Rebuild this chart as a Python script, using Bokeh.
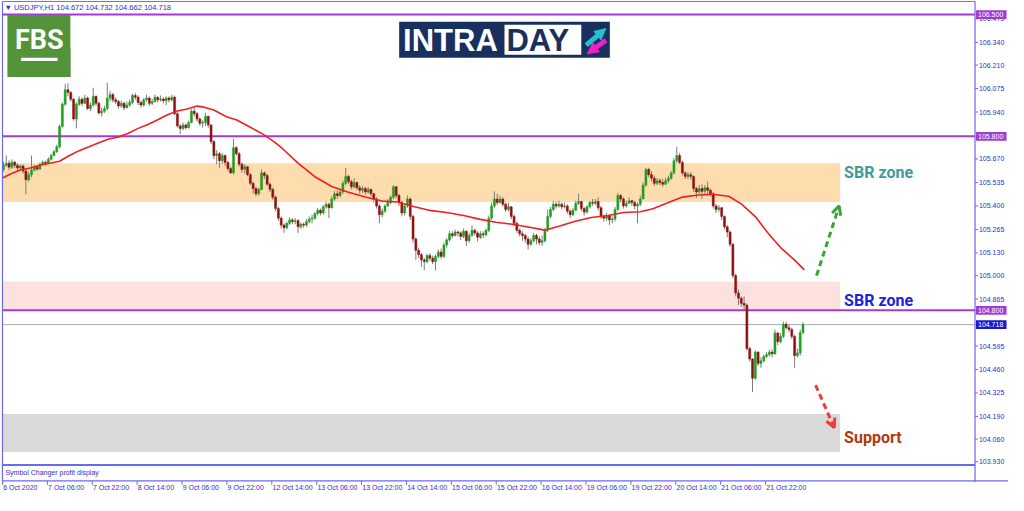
from bokeh.plotting import figure
from bokeh.models import (ColumnDataSource, Label, Arrow, OpenHead,
                          NormalHead, BoxAnnotation, Range1d)
from bokeh.core.properties import value
from bokeh.embed import file_html
from bokeh.resources import INLINE

# ---------------- data ----------------
first_open = 105.610
close = [
 105.634,105.646,105.623,105.651,105.634,105.618,105.629,105.601,105.551,105.579,
 105.607,105.623,105.612,105.640,105.651,105.645,105.668,105.690,105.712,105.740,
 105.857,105.985,106.068,106.052,106.013,105.900,105.985,106.013,105.990,106.020,
 105.960,105.980,106.030,105.990,105.935,105.945,105.960,106.020,106.040,106.010,
 106.000,105.975,105.990,105.965,105.980,105.995,106.035,106.025,105.995,105.980,
 106.010,106.020,105.990,106.000,106.025,106.010,106.015,106.005,106.020,106.010,
 106.025,105.930,105.860,105.845,105.865,105.850,105.880,105.945,105.930,105.900,
 105.875,105.880,105.915,105.865,105.770,105.690,105.700,105.660,105.690,105.650,
 105.615,105.590,105.735,105.700,105.640,105.610,105.625,105.580,105.530,105.500,
 105.470,105.495,105.590,105.575,105.525,105.495,105.450,105.385,105.330,105.290,
 105.275,105.300,105.320,105.310,105.315,105.280,105.295,105.290,105.310,105.325,
 105.330,105.355,105.375,105.360,105.395,105.410,105.390,105.440,105.470,105.460,
 105.480,105.530,105.570,105.540,105.510,105.535,105.505,105.490,105.500,105.480,
 105.495,105.470,105.440,105.400,105.350,105.370,105.400,105.420,105.450,105.510,
 105.460,105.420,105.360,105.400,105.440,105.340,105.210,105.145,105.120,105.090,
 105.080,105.115,105.100,105.080,105.110,105.135,105.110,105.175,105.205,105.240,
 105.230,105.250,105.245,105.225,105.255,105.200,105.230,105.260,105.245,105.220,
 105.240,105.235,105.260,105.330,105.400,105.440,105.420,105.440,105.410,105.380,
 105.395,105.340,105.300,105.260,105.240,105.230,105.210,105.180,105.200,105.230,
 105.210,105.190,105.200,105.260,105.340,105.380,105.410,105.400,105.410,105.395,
 105.400,105.370,105.350,105.375,105.415,105.425,105.385,105.365,105.395,105.420,
 105.415,105.425,105.390,105.340,105.330,105.345,105.320,105.325,105.380,105.460,
 105.440,105.400,105.415,105.430,105.420,105.400,105.410,105.440,105.520,105.610,
 105.580,105.560,105.530,105.545,105.535,105.525,105.545,105.560,105.590,105.660,
 105.690,105.650,105.590,105.570,105.580,105.570,105.500,105.480,105.500,105.485,
 105.505,105.490,105.470,105.400,105.380,105.390,105.340,105.280,105.250,105.180,
 105.000,104.900,104.870,104.840,104.830,104.580,104.520,104.410,104.560,104.495,
 104.510,104.535,104.545,104.560,104.550,104.670,104.620,104.650,104.720,104.700,
 104.690,104.650,104.540,104.555,104.672,104.718]
high = [
 105.655,105.690,105.662,105.668,105.660,105.645,105.640,105.640,105.612,105.595,
 105.690,105.635,105.630,105.650,105.662,105.660,105.680,105.700,105.722,105.752,
 105.868,105.996,106.102,106.105,106.060,106.020,105.995,106.030,106.025,106.040,
 106.030,105.995,106.080,106.035,106.000,105.965,105.975,106.108,106.060,106.050,
 106.025,106.010,106.005,106.000,106.000,106.012,106.045,106.050,106.035,106.005,
 106.020,106.040,106.030,106.015,106.040,106.030,106.035,106.025,106.030,106.030,
 106.040,106.035,105.940,105.870,105.880,105.875,105.890,105.955,105.965,105.940,
 105.910,105.895,105.935,105.920,105.870,105.780,105.720,105.710,105.705,105.695,
 105.660,105.625,105.785,105.745,105.710,105.650,105.640,105.630,105.590,105.540,
 105.510,105.505,105.610,105.600,105.585,105.535,105.505,105.460,105.395,105.340,
 105.300,105.310,105.335,105.330,105.330,105.325,105.305,105.305,105.325,105.340,
 105.350,105.365,105.390,105.385,105.405,105.425,105.420,105.455,105.485,105.490,
 105.500,105.545,105.618,105.580,105.550,105.560,105.540,105.520,105.515,105.510,
 105.510,105.500,105.475,105.450,105.410,105.385,105.410,105.440,105.460,105.520,
 105.515,105.470,105.430,105.410,105.460,105.450,105.350,105.220,105.160,105.130,
 105.100,105.125,105.130,105.115,105.120,105.150,105.155,105.190,105.215,105.255,
 105.255,105.265,105.260,105.255,105.270,105.260,105.245,105.290,105.270,105.255,
 105.255,105.255,105.270,105.345,105.420,105.484,105.470,105.460,105.450,105.420,
 105.420,105.400,105.350,105.310,105.270,105.255,105.240,105.225,105.215,105.245,
 105.240,105.225,105.230,105.275,105.380,105.395,105.430,105.425,105.430,105.420,
 105.420,105.410,105.380,105.390,105.430,105.470,105.430,105.395,105.405,105.430,
 105.440,105.440,105.450,105.400,105.350,105.360,105.350,105.340,105.395,105.475,
 105.470,105.450,105.430,105.450,105.435,105.430,105.420,105.460,105.535,105.620,
 105.620,105.600,105.575,105.560,105.560,105.555,105.560,105.575,105.600,105.675,
 105.740,105.705,105.660,105.600,105.595,105.595,105.575,105.510,105.520,105.525,
 105.520,105.540,105.500,105.480,105.410,105.405,105.395,105.345,105.290,105.260,
 105.185,105.010,104.920,104.880,104.880,104.840,104.590,104.525,104.570,104.565,
 104.530,104.545,104.560,104.575,104.575,104.690,104.675,104.670,104.735,104.735,
 104.720,104.700,104.660,104.580,104.690,104.732]
low = [
 105.598,105.625,105.605,105.612,105.618,105.600,105.605,105.585,105.467,105.540,
 105.565,105.598,105.600,105.608,105.635,105.632,105.640,105.660,105.685,105.705,
 105.730,105.850,105.975,106.030,106.000,105.890,105.846,105.975,105.975,105.985,
 105.952,105.945,105.970,105.975,105.925,105.915,105.935,105.950,106.000,105.995,
 105.985,105.960,105.965,105.950,105.960,105.970,105.985,106.010,105.980,105.965,
 105.970,106.000,105.975,105.980,105.995,105.995,106.000,105.990,105.980,105.995,
 106.000,105.920,105.850,105.813,105.835,105.840,105.845,105.875,105.915,105.885,
 105.860,105.850,105.860,105.850,105.755,105.670,105.640,105.620,105.640,105.630,
 105.600,105.585,105.580,105.690,105.625,105.590,105.585,105.570,105.520,105.470,
 105.455,105.460,105.490,105.555,105.515,105.480,105.435,105.370,105.315,105.270,
 105.245,105.265,105.290,105.295,105.295,105.245,105.270,105.275,105.280,105.300,
 105.300,105.320,105.345,105.345,105.350,105.385,105.330,105.385,105.430,105.440,
 105.450,105.470,105.520,105.525,105.495,105.500,105.490,105.470,105.475,105.465,
 105.470,105.455,105.420,105.385,105.300,105.335,105.360,105.395,105.410,105.440,
 105.445,105.400,105.340,105.345,105.390,105.320,105.190,105.090,105.100,105.050,
 105.030,105.070,105.085,105.065,105.030,105.100,105.095,105.100,105.160,105.195,
 105.215,105.225,105.225,105.205,105.215,105.170,105.190,105.225,105.230,105.195,
 105.210,105.215,105.225,105.250,105.320,105.390,105.405,105.415,105.395,105.365,
 105.370,105.325,105.285,105.245,105.225,105.200,105.190,105.150,105.170,105.190,
 105.180,105.175,105.170,105.190,105.250,105.330,105.370,105.385,105.390,105.380,
 105.385,105.355,105.330,105.340,105.370,105.405,105.370,105.345,105.355,105.385,
 105.400,105.405,105.375,105.325,105.310,105.315,105.290,105.300,105.310,105.370,
 105.420,105.385,105.390,105.410,105.400,105.380,105.300,105.400,105.440,105.510,
 105.565,105.540,105.515,105.520,105.520,105.510,105.520,105.530,105.550,105.580,
 105.645,105.640,105.575,105.555,105.555,105.550,105.480,105.445,105.470,105.440,
 105.470,105.460,105.455,105.385,105.360,105.365,105.320,105.265,105.220,105.165,
 104.985,104.880,104.830,104.820,104.795,104.570,104.505,104.330,104.400,104.480,
 104.470,104.500,104.525,104.535,104.530,104.545,104.600,104.610,104.640,104.690,
 104.675,104.635,104.470,104.530,104.540,104.662]

# moving average, read at sample bars
ma_bar = [-0.5,2.5,6,9.5,13,16.5,20,23.5,27,30.5,34,37.5,41,44.5,48,51.5,55,58.5,62,65.5,69,71.5,
          75,79.5,83,87.5,92.5,97,99.5,105,111,117,123,129,135,140.5,146.5,152.5,158,164,170,175.5,
          181.5,187.5,193,198,203.5,209.5,215.5,221,227,231.5,237.5,242,247,252.5,258.5,263,268,
          272.5,277,282,285.5]
ma_val = [105.559,105.584,105.607,105.618,105.634,105.646,105.657,105.690,105.718,105.740,105.763,
          105.785,105.796,105.818,105.846,105.868,105.896,105.924,105.946,105.957,105.974,105.968,
          105.952,105.913,105.896,105.857,105.813,105.763,105.729,105.646,105.568,105.512,105.479,
          105.451,105.428,105.423,105.395,105.373,105.362,105.345,105.323,105.306,105.295,105.278,
          105.261,105.284,105.311,105.334,105.345,105.362,105.367,105.384,105.423,105.451,105.462,
          105.467,105.456,105.412,105.339,105.245,105.161,105.089,105.033]

x_tick_bars = [0,16,32,48,64,80,96,112,128,144,160,176,192,208,224,240,256,272]
x_tick_labels = ["6 Oct 2020","7 Oct 06:00","7 Oct 22:00","8 Oct 14:00","9 Oct 06:00",
                 "9 Oct 22:00","12 Oct 14:00","13 Oct 06:00","13 Oct 22:00","14 Oct 14:00",
                 "15 Oct 06:00","15 Oct 22:00","16 Oct 14:00","19 Oct 06:00","19 Oct 22:00",
                 "20 Oct 14:00","21 Oct 06:00","21 Oct 22:00"]
y_ticks = [106.475,106.340,106.210,106.075,105.940,105.670,105.535,105.400,105.265,105.130,
           105.000,104.865,104.595,104.460,104.325,104.190,104.060,103.930]
level_lines = [106.500, 105.800, 104.800]
current_price = 104.718
zone_top = [105.646, 104.966, 104.204]
zone_bottom = [105.423, 104.799, 103.986]
zone_colors = ["#fddcae", "#fde1de", "#d9d9d9"]
zone_labels = ["SBR zone", "SBR zone", "Support"]
zone_label_colors = ["#3f9a9a", "#1c22e0", "#b13a10"]

# ---------------- geometry helpers (reference pixel -> data) ----------------
def fx(px):
    return (px - 3) / 2.85

def fy(py):
    return 106.581 - 0.005568 * py

def dx(px):
    return px / 2.85

def dy(py):
    return py * 0.005568

BLUE = "#6a6af0"
TXT = "#2e2ed0"
PURPLE = "#a23ad6"
SMALL = value("Liberation Sans")

p = figure(width=1008, height=495, output_backend="svg", toolbar_location=None,
           x_range=Range1d(fx(0), fx(1024)), y_range=Range1d(fy(511), fy(0)),
           x_axis_location=None, y_axis_location=None, min_border=0)
p.grid.visible = False
p.outline_line_color = None
p.background_fill_color = "white"
p.border_fill_color = "white"

n = len(close)
xs = list(range(n))
opens = [first_open] + close[:-1]

# zones
zsrc = ColumnDataSource(dict(left=[fx(2)] * 3, right=[fx(853)] * 3,
                             top=zone_top, bottom=zone_bottom, color=zone_colors))
p.quad(left="left", right="right", top="top", bottom="bottom", fill_color="color",
       line_color=None, source=zsrc)

# horizontal levels
p.segment(x0=[fx(2)] * 3, x1=[fx(990)] * 3, y0=level_lines, y1=level_lines,
          line_color=PURPLE, line_width=2)
p.segment(x0=[fx(2)], x1=[fx(990)], y0=[current_price], y1=[current_price],
          line_color="#a8a8a8", line_width=1)

# candles
bull = [i for i in xs if close[i] >= opens[i]]
bear = [i for i in xs if close[i] < opens[i]]
wsrc = ColumnDataSource(dict(x=xs, h=high, l=low))
p.segment(x0="x", x1="x", y0="l", y1="h", line_color="#7c7c7c", line_width=1, source=wsrc)
bsrc = ColumnDataSource(dict(x=bull, t=[close[i] for i in bull], b=[opens[i] for i in bull]))
rsrc = ColumnDataSource(dict(x=bear, t=[opens[i] for i in bear], b=[close[i] for i in bear]))
p.vbar(x="x", top="t", bottom="b", width=0.72, fill_color="#1f9e1f", line_color="#1f9e1f",
       line_width=0.5, source=bsrc)
p.vbar(x="x", top="t", bottom="b", width=0.72, fill_color="#8e1010", line_color="#8e1010",
       line_width=0.5, source=rsrc)

# moving average
p.line(ma_bar, ma_val, line_color="#f02020", line_width=1.6)

# zone labels
for yv, t, c in zip([fy(178), fy(310), fy(451)], zone_labels, zone_label_colors):
    p.add_layout(Label(x=fx(857), y=yv, text=t, text_color=c, text_font="Roboto",
                       text_font_style="bold", text_font_size="16px", text_baseline="middle"))

# dashed arrows
p.add_layout(Arrow(x_start=fx(829), y_start=fy(284), x_end=fx(852), y_end=fy(212),
                   line_color="#36a536", line_width=3, line_dash="6 4",
                   end=OpenHead(size=9, line_color="#36a536", line_width=3)))
p.add_layout(Arrow(x_start=fx(828), y_start=fy(397), x_end=fx(847), y_end=fy(441),
                   line_color="#f03a3a", line_width=3, line_dash="6 4",
                   end=OpenHead(size=9, line_color="#f03a3a", line_width=3)))

# window frame lines (left border, top, main window bottom, strip/axis line, price scale line)
p.segment(x0=[fx(2), fx(2), fx(2), fx(2), fx(990)],
          x1=[fx(2), fx(990), fx(990), fx(1024), fx(990)],
          y0=[fy(1), fy(1), fy(479.5), fy(496), fy(1)],
          y1=[fy(496), fy(1), fy(479.5), fy(496), fy(497)],
          line_color=BLUE, line_width=[1.2, 1, 2, 1.2, 1.2])
p.add_layout(Label(x=fx(5), y=fy(487.5), text="Symbol Changer profit display", text_color=TXT,
                   text_font="Liberation Sans", text_font_size="7px", text_baseline="middle"))

# header
p.add_layout(Label(x=fx(4), y=fy(7), text="\u25bc USDJPY,H1  104.672 104.732 104.662 104.718",
                   text_color=TXT, text_font="Liberation Sans", text_font_size="7.5px",
                   text_baseline="middle"))

# FBS logo
p.add_layout(BoxAnnotation(left=fx(7), right=fx(71), top=fy(15), bottom=fy(79),
                           fill_color="#53933a", fill_alpha=1, line_color=None))
p.patch([fx(58), fx(71), fx(71), fx(34), fx(21), fx(58)],
        [fy(38), fy(50), fy(79), fy(79), fy(64), fy(64)], fill_color="#3a6c25", line_color=None)
p.add_layout(Label(x=fx(39.5), y=fy(41), text="FBS", text_color="white", text_font="Roboto",
                   text_font_style="bold", text_font_size="27px", text_align="center",
                   text_baseline="middle"))
p.add_layout(BoxAnnotation(left=fx(21), right=fx(58), top=fy(59), bottom=fy(62.5),
                           fill_color="white", fill_alpha=1, line_color=None))

# INTRADAY logo
p.add_layout(BoxAnnotation(left=fx(405), right=fx(619), top=fy(22), bottom=fy(59),
                           fill_color="#17305e", fill_alpha=1, line_color=None))
p.add_layout(BoxAnnotation(left=fx(512), right=fx(590), top=fy(25), bottom=fy(56),
                           fill_color="white", fill_alpha=1, line_color=None))
p.add_layout(Label(x=fx(409), y=fy(41), text="INTRA", text_color="white",
                   text_font="Liberation Sans", text_font_style="bold",
                   text_font_size="31px", text_baseline="middle"))
p.add_layout(Label(x=fx(514), y=fy(41), text="DAY", text_color="#17305e",
                   text_font="Liberation Sans", text_font_style="bold",
                   text_font_size="31px", text_baseline="middle"))
p.add_layout(Arrow(x_start=fx(595), y_start=fy(46), x_end=fx(615), y_end=fy(29),
                   line_color="#22c3cf", line_width=5,
                   end=NormalHead(size=11, fill_color="#22c3cf", line_color="#22c3cf")))
p.add_layout(Arrow(x_start=fx(615), y_start=fy(41), x_end=fx(596), y_end=fy(55),
                   line_color="#ec22c6", line_width=5,
                   end=NormalHead(size=11, fill_color="#ec22c6", line_color="#ec22c6")))

# price scale: ticks and labels
p.segment(x0=[fx(990)] * len(y_ticks), x1=[fx(993)] * len(y_ticks), y0=y_ticks, y1=y_ticks,
          line_color=BLUE, line_width=1)
p.text(x=[fx(994)] * len(y_ticks), y=y_ticks, text=[f"{v:.3f}" for v in y_ticks],
       text_color=TXT, text_font=SMALL, text_font_size="7px", text_baseline="middle")

# time scale: ticks and labels
p.segment(x0=[b - 0.35 for b in x_tick_bars], x1=[b - 0.35 for b in x_tick_bars],
          y0=[fy(496)] * len(x_tick_bars), y1=[fy(500)] * len(x_tick_bars),
          line_color=BLUE, line_width=1)
p.text(x=[b - 0.1 for b in x_tick_bars], y=[fy(503)] * len(x_tick_bars), text=x_tick_labels,
       text_color=TXT, text_font=SMALL, text_font_size="7px", text_baseline="middle")

# price tags on the right scale
tag_levels = level_lines + [current_price]
tag_colors = [PURPLE] * 3 + ["#1a1acc"]
p.rect(x=[fx(1006.5)] * 4, y=tag_levels, width=dx(31), height=dy(9),
       fill_color=tag_colors, line_color=None)
p.text(x=[fx(993)] * 4, y=tag_levels, text=[f"{v:.3f}" for v in tag_levels],
       text_color="white", text_font=SMALL, text_font_size="7px", text_baseline="middle")

open("out.html", "w").write(file_html(p, INLINE))
